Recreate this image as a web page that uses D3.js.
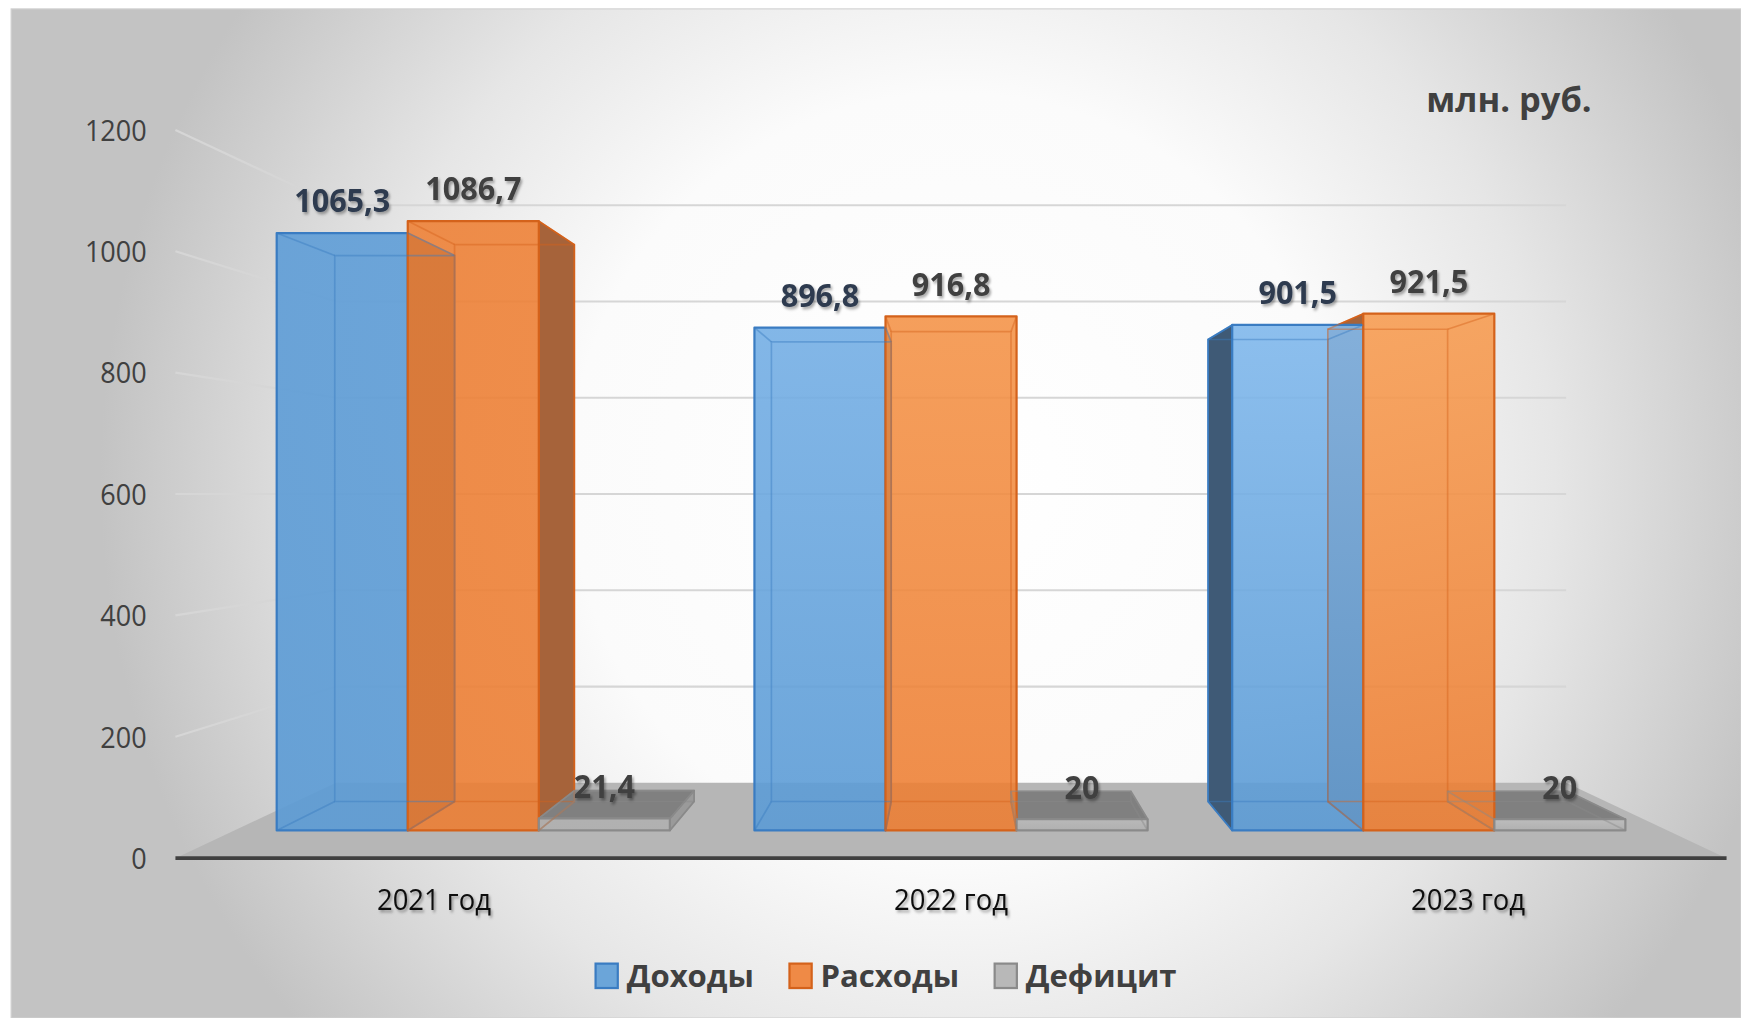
<!DOCTYPE html>
<html>
<head>
<meta charset="utf-8">
<script src="https://cdn.jsdelivr.net/npm/d3@7"></script>
<style>
  body { margin: 0; background: #ffffff; }
  svg { display: block; }
</style>
</head>
<body>
<div id="chart"></div>
<script>
// data
var categories = ["2021 год", "2022 год", "2023 год"];
var seriesNames = ["Доходы", "Расходы", "Дефицит"];
var incomeValues = [1065.3, 896.8, 901.5];
var expenseValues = [1086.7, 916.8, 921.5];
var deficitValues = [21.4, 20, 20];
var yTicks = [0, 200, 400, 600, 800, 1000, 1200];
var unitLabel = "млн. руб.";

var seriesValues = [incomeValues, expenseValues, deficitValues];

// drawing is done in the coordinates of the 1568x917 preview, then scaled by the viewBox
var W = 1568, H = 917;

// colours for each series
var styles = [
  { base: "#5b9bd5", light: "#9fd0ff", alpha: 0.9, stroke: "#3a7cc2", side: "#3f5a76", top: "#4f80b0", label: "#2e3b4f" },
  { base: "#ed7d31", light: "#ffb468", alpha: 0.88, stroke: "#d4621b", side: "#a6633a", top: "#c96b2b", label: "#404040" },
  { base: "#b0b0b0", light: "#c8c8c8", alpha: 0.95, stroke: "#8a8a8a", side: "#9a9a9a", top: "#808080", label: "#404040" }
];
// lighting on the front faces gets stronger to the right
var topLight = [0.04, 0.38, 0.55];

// perspective: vanishing point and depth factors (1 = front plane of the axis)
var VX = 857, VY = 445;
var K_FRONT = 0.924, K_BACK = 0.8445, K_WALL = 0.793;

var svg = d3.select("#chart").append("svg")
  .attr("width", 1741)
  .attr("height", 1018)
  .attr("viewBox", "0 0 " + W + " " + H)
  .attr("preserveAspectRatio", "none");

var defs = svg.append("defs");

// background gradient
var bg = defs.append("radialGradient")
  .attr("id", "bgGrad")
  .attr("gradientUnits", "userSpaceOnUse")
  .attr("cx", 860).attr("cy", 430).attr("r", 770);
bg.append("stop").attr("offset", 0).attr("stop-color", "#ffffff");
bg.append("stop").attr("offset", 0.45).attr("stop-color", "#fbfbfb");
bg.append("stop").attr("offset", 0.7).attr("stop-color", "#e6e6e6");
bg.append("stop").attr("offset", 1).attr("stop-color", "#c3c3c3");

// shadow for the labels
var shadow = defs.append("filter")
  .attr("id", "txtShadow")
  .attr("x", "-20%").attr("y", "-30%").attr("width", "140%").attr("height", "170%");
shadow.append("feDropShadow")
  .attr("dx", 1.6).attr("dy", 2)
  .attr("stdDeviation", 1.2)
  .attr("flood-color", "#000")
  .attr("flood-opacity", 0.35);

svg.append("rect")
  .attr("x", 10).attr("y", 8)
  .attr("width", W - 10).attr("height", H - 8)
  .attr("fill", "url(#bgGrad)")
  .attr("stroke", "#d0d0d0")
  .attr("stroke-width", 1);

// scales in the front plane
var x = d3.scaleBand()
  .domain(categories)
  .range([158, 1555])
  .paddingInner(0.177)
  .paddingOuter(0.0885);

var xs = d3.scaleBand()
  .domain(seriesNames)
  .range([0, x.bandwidth()])
  .padding(0);

var y = d3.scaleLinear()
  .domain([0, 1200])
  .range([773, 117]);

// project a point of the front plane to depth k
function P(X, v, k) {
  return [VX + (X - VX) * k, VY + (y(v) - VY) * k];
}
var line = d3.line();
function poly(pts) { return line(pts) + "Z"; }

// floor
svg.append("path")
  .attr("d", poly([P(158, 0, 1), P(1555, 0, 1), P(1555, 0, K_WALL), P(158, 0, K_WALL)]))
  .attr("fill", "#b6b6b6");

// gridlines: side wall and back wall
var grid = svg.append("g")
  .attr("stroke", "#d6d6d6")
  .attr("stroke-width", 2)
  .attr("fill", "none");

yTicks.filter(function (t) { return t > 0; }).forEach(function (t) {
  grid.append("path")
    .attr("d", line([P(158, t, 1), P(158, t, K_WALL), P(1555, t, K_WALL)]));
});

// front axis line
svg.append("line")
  .attr("x1", 158).attr("x2", 1555)
  .attr("y1", y(0)).attr("y2", y(0))
  .attr("stroke", "#404040")
  .attr("stroke-width", 3.5);

// tick labels
svg.append("g").selectAll("text")
  .data(yTicks)
  .enter().append("text")
  .attr("transform", function (d) { return "translate(132," + y(d) + ") scale(0.9,1)"; })
  .attr("text-anchor", "end")
  .attr("dy", "0.36em")
  .attr("font-family", "'Open Sans', sans-serif")
  .attr("font-size", 27)
  .attr("fill", "#404040")
  .text(function (d) { return d; });

// build the bars
var bars = [];
categories.forEach(function (c, ci) {
  seriesNames.forEach(function (s, si) {
    var X0 = x(c) + xs(s), X1 = X0 + xs.bandwidth();
    bars.push({ cat: c, ci: ci, si: si, v: seriesValues[si][ci], X0: X0, X1: X1 });
  });
});

function face(b, name) {
  var X0 = b.X0, X1 = b.X1, v = b.v, kf = K_FRONT, kb = K_BACK;
  if (name === "front") return [P(X0, 0, kf), P(X1, 0, kf), P(X1, v, kf), P(X0, v, kf)];
  if (name === "back") return [P(X0, 0, kb), P(X1, 0, kb), P(X1, v, kb), P(X0, v, kb)];
  if (name === "left") return [P(X0, 0, kf), P(X0, v, kf), P(X0, v, kb), P(X0, 0, kb)];
  if (name === "right") return [P(X1, 0, kf), P(X1, v, kf), P(X1, v, kb), P(X1, 0, kb)];
  if (name === "top") return [P(X0, v, kf), P(X1, v, kf), P(X1, v, kb), P(X0, v, kb)];
}

// a vertical gradient for every front face
bars.forEach(function (b, i) {
  var st = styles[b.si];
  var f = face(b, "front");
  var gr = defs.append("linearGradient")
    .attr("id", "front" + i)
    .attr("gradientUnits", "userSpaceOnUse")
    .attr("x1", 0).attr("x2", 0)
    .attr("y1", f[3][1]).attr("y2", f[0][1]);
  gr.append("stop").attr("offset", 0)
    .attr("stop-color", d3.interpolateRgb(st.base, st.light)(topLight[b.ci]))
    .attr("stop-opacity", st.alpha);
  gr.append("stop").attr("offset", 1)
    .attr("stop-color", st.base)
    .attr("stop-opacity", st.alpha);
});

var barLayer = svg.append("g");

// side faces that face the viewer
bars.forEach(function (b) {
  var st = styles[b.si];
  var side = null;
  if (b.X0 > VX) side = "left";
  if (b.X1 < VX) side = "right";
  if (side) {
    barLayer.append("path")
      .attr("d", poly(face(b, side)))
      .attr("fill", st.side)
      .attr("stroke", st.stroke)
      .attr("stroke-width", 1.5)
      .attr("stroke-linejoin", "round");
  }
});

// top faces of the low bars (below eye level)
bars.forEach(function (b) {
  var st = styles[b.si];
  if (y(b.v) > VY) {
    barLayer.append("path")
      .attr("d", poly(face(b, "top")))
      .attr("fill", st.top)
      .attr("stroke", st.stroke)
      .attr("stroke-width", 1.5)
      .attr("stroke-linejoin", "round");
  }
});

// front faces
bars.forEach(function (b, i) {
  var st = styles[b.si];
  barLayer.append("path")
    .attr("d", poly(face(b, "front")))
    .attr("fill", "url(#front" + i + ")")
    .attr("stroke", st.stroke)
    .attr("stroke-width", 2)
    .attr("stroke-linejoin", "round");
});

// hidden edges seen through the front faces
bars.forEach(function (b) {
  var st = styles[b.si];
  var f = face(b, "front"), k = face(b, "back");
  var g = barLayer.append("g")
    .attr("stroke", st.stroke)
    .attr("stroke-opacity", 0.45)
    .attr("stroke-width", 1.5)
    .attr("fill", "none");
  g.append("path").attr("d", poly(k));
  for (var i = 0; i < 4; i++) {
    g.append("path").attr("d", line([f[i], k[i]]));
  }
});

// value labels
svg.append("g").selectAll("text")
  .data(bars)
  .enter().append("text")
  .attr("transform", function (d) {
    var f = face(d, "front");
    return "translate(" + ((f[0][0] + f[1][0]) / 2) + "," + (f[3][1] - 29) + ") scale(0.95,1)";
  })
  .attr("dy", "0.36em")
  .attr("text-anchor", "middle")
  .attr("font-family", "'Open Sans', sans-serif")
  .attr("font-weight", "bold")
  .attr("font-size", 29)
  .attr("fill", function (d) { return styles[d.si].label; })
  .attr("filter", "url(#txtShadow)")
  .text(function (d) { return String(d.v).replace(".", ","); });

// category labels
svg.append("g").selectAll("text")
  .data(categories)
  .enter().append("text")
  .attr("transform", function (d) { return "translate(" + (x(d) + x.bandwidth() / 2) + ",810) scale(0.95,1)"; })
  .attr("text-anchor", "middle")
  .attr("dy", "0.36em")
  .attr("font-family", "'Open Sans', sans-serif")
  .attr("font-size", 26)
  .attr("fill", "#0d0d0d")
  .attr("filter", "url(#txtShadow)")
  .text(function (d) { return d; });

// unit label
svg.append("text")
  .attr("x", 1359).attr("y", 90)
  .attr("dy", "0.36em")
  .attr("text-anchor", "middle")
  .attr("font-family", "'Open Sans', sans-serif")
  .attr("font-weight", "bold")
  .attr("font-size", 31)
  .attr("fill", "#404040")
  .text(unitLabel);

// legend
var legend = svg.append("g");
var lx = 0;
seriesNames.forEach(function (s, i) {
  var g = legend.append("g");
  g.append("rect")
    .attr("x", 0).attr("y", -11)
    .attr("width", 20).attr("height", 22)
    .attr("fill", d3.interpolateRgb(styles[i].base, "#fff")(0.1))
    .attr("stroke", styles[i].stroke)
    .attr("stroke-width", 2);
  var t = g.append("text")
    .attr("x", 28).attr("y", 0)
    .attr("dy", "0.36em")
    .attr("font-family", "'Open Sans', sans-serif")
    .attr("font-weight", "bold")
    .attr("font-size", 28)
    .attr("fill", "#404040")
    .text(s);
  g.attr("transform", "translate(" + lx + ",0)");
  lx += 28 + t.node().getComputedTextLength() + 32;
});
var legendWidth = lx - 32;
legend.attr("transform", "translate(" + (798 - legendWidth / 2) + ",879)");
</script>
</body>
</html>
